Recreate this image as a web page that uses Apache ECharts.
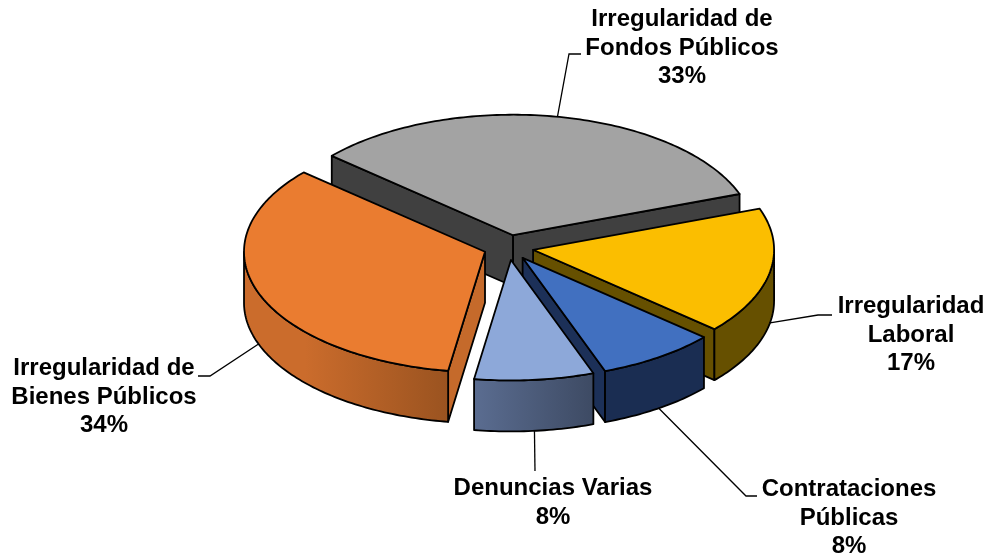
<!DOCTYPE html>
<html>
<head>
<meta charset="utf-8">
<title>Denuncias</title>
<script src="https://cdn.jsdelivr.net/npm/echarts@6/dist/echarts.min.js"></script>
<style>
  html, body { margin: 0; padding: 0; background: #fff; }
  #main { width: 988px; height: 554px; }
</style>
</head>
<body>
<div id="main"></div>
<script>
// datos
const categories = [
  'Irregularidad de\nFondos Públicos',
  'Irregularidad\nLaboral',
  'Contrataciones\nPúblicas',
  'Denuncias Varias',
  'Irregularidad de\nBienes Públicos'
];
const values = [33, 17, 8, 8, 34];

// colores: cara superior, pared, lateral
const topColors = ['#a3a3a3', '#fbbe00', '#4170c0', '#8da8d9', '#ea7c30'];
const wallColors = ['#404040', '#665000', '#1c3058', '#1c3058', '#c56a2b'];
const sideStops = [
  ['#404040', '#404040'],
  ['#665000', '#665000'],
  ['#1a2d52', '#1a2d52'],
  ['#5b6d91', '#3d4a63'],
  ['#cb6c2c', '#9a5320']
];

// posicion de las etiquetas: centro del texto, codo y fin de la guia
const labelCenter = [[682, 48], [911, 335], [849, 518], [553, 503], [104, 397]];
const leaderPath = [
  [[569, 54], [581, 54]],
  [[818, 315], [832, 315]],
  [[746, 496], [757, 496]],
  [[535, 471]],
  [[210, 376], [198, 376]]
];

const cx = 508.5, cy = 247.5;
const rx = 241, ry = 120.5;
const depth = 51;
const explode = 25;
const firstAngle = -48.8;

const total = values.reduce((a, b) => a + b, 0);
const rad = (d) => d * Math.PI / 180;

// angulos en grados, en sentido horario desde arriba
function sliceAngles(i) {
  let start = firstAngle;
  for (let k = 0; k < i; k++) start += values[k] / total * 360;
  return [start, start + values[i] / total * 360];
}

function apexOf(mid) {
  return [
    cx + explode * Math.sin(rad(mid)),
    cy - explode * 0.5 * Math.cos(rad(mid))
  ];
}

function rim(apex, a, down) {
  return [
    apex[0] + rx * Math.sin(rad(a)),
    apex[1] - ry * Math.cos(rad(a)) + (down || 0)
  ];
}

function arc(apex, a0, a1, down) {
  const pts = [];
  const n = Math.max(2, Math.ceil(Math.abs(a1 - a0)));
  for (let j = 0; j <= n; j++) pts.push(rim(apex, a0 + (a1 - a0) * j / n, down));
  return pts;
}

const lineStyle = { stroke: '#000', lineWidth: 1.8, lineJoin: 'round' };

function renderSlice(params, api) {
  const i = params.dataIndex;
  const [a0, a1] = sliceAngles(i);
  const mid = (a0 + a1) / 2;
  const apex = apexOf(mid);
  const children = [];

  // paredes radiales que miran al frente
  [[a0, a0 - 90], [a1, a1 + 90]].forEach(([edge, normal]) => {
    if (Math.cos(rad(normal)) < 0) {
      const p = rim(apex, edge);
      children.push({
        type: 'polygon',
        shape: { points: [apex, p, [p[0], p[1] + depth], [apex[0], apex[1] + depth]] },
        style: { fill: wallColors[i], ...lineStyle }
      });
    }
  });

  // lateral exterior, solo el tramo delantero
  const s0 = Math.max(a0, 90), s1 = Math.min(a1, 270);
  if (s1 > s0) {
    const pts = arc(apex, s0, s1, 0).concat(arc(apex, s1, s0, depth));
    children.push({
      type: 'polygon',
      shape: { points: pts },
      style: {
        fill: new echarts.graphic.LinearGradient(
          0, 0, 1, 0,
          i === 4
            ? [{ offset: 0, color: sideStops[i][0] }, { offset: 0.3, color: sideStops[i][0] }, { offset: 1, color: sideStops[i][1] }]
            : [{ offset: 0, color: sideStops[i][0] }, { offset: 1, color: sideStops[i][1] }]
        ),
        ...lineStyle
      }
    });
  }

  // cara superior
  children.push({
    type: 'polygon',
    shape: { points: [apex].concat(arc(apex, a0, a1, 0)) },
    style: { fill: topColors[i], ...lineStyle }
  });

  // guia de la etiqueta
  const front = mid > 90 && mid < 270;
  const anchor = rim(apex, mid, front ? depth : 0);
  children.push({
    type: 'polyline',
    shape: { points: [anchor].concat(leaderPath[i]) },
    style: { stroke: '#000', lineWidth: 1.3, fill: null }
  });

  // etiqueta
  children.push({
    type: 'text',
    style: {
      text: categories[i] + '\n' + api.value(0) + '%',
      x: labelCenter[i][0],
      y: labelCenter[i][1],
      align: 'center',
      verticalAlign: 'middle',
      fontFamily: '"Liberation Sans"',
      fontWeight: 'bold',
      fontSize: 24,
      lineHeight: 28.5,
      fill: '#000'
    }
  });

  return { type: 'group', children };
}

const myChart = echarts.init(document.getElementById('main'), null, { renderer: 'canvas' });

const option = {
  backgroundColor: '#fff',
  animation: false,
  series: [
    {
      type: 'custom',
      coordinateSystem: 'none',
      silent: true,
      data: values.map((v) => [v]),
      renderItem: renderSlice
    }
  ]
};

option && myChart.setOption(option);
</script>
</body>
</html>
